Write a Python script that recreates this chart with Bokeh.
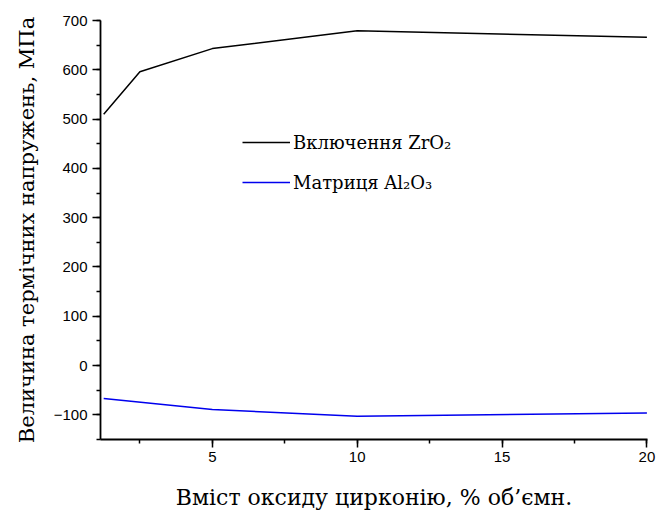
from bokeh.plotting import figure
from bokeh.models import Range1d, SingleIntervalTicker, Legend, LegendItem
from bokeh.embed import file_html
from bokeh.resources import INLINE

# Data
x_zro2 = [1.25, 2.5, 5, 10, 20]
y_zro2 = [510, 596, 643, 679, 666]
x_al2o3 = [1.25, 5, 10, 20]
y_al2o3 = [-67, -89, -103, -96]

label_zro2 = "Включення ZrO₂"
label_al2o3 = "Матриця Al₂O₃"
x_title = "Вміст оксиду цирконію, % об’ємн."
y_title = "Величина термічних напружень, МПа"

p = figure(width=657, height=514, output_backend="svg", toolbar_location=None,
           x_range=Range1d(1.14, 20.02), y_range=Range1d(-150, 700),
           min_border_left=100, min_border_top=20, min_border_right=10, min_border_bottom=75)
p.outline_line_color = None
p.grid.visible = False
p.background_fill_color = "white"
p.border_fill_color = "white"

r1 = p.line(x_zro2, y_zro2, line_color="black", line_width=1.5)
r2 = p.line(x_al2o3, y_al2o3, line_color="#0000ee", line_width=1.5)

p.xaxis.ticker = SingleIntervalTicker(interval=5, num_minor_ticks=2)
p.yaxis.ticker = SingleIntervalTicker(interval=100, num_minor_ticks=2)

for ax in (p.xaxis, p.yaxis):
    ax.axis_line_width = 1.8
    ax.major_tick_line_width = 1.5
    ax.minor_tick_line_width = 1.5
    ax.major_tick_in = 0
    ax.major_tick_out = 8
    ax.minor_tick_in = 0
    ax.minor_tick_out = 4
    ax.major_label_text_font = "Liberation Sans"
    ax.major_label_text_font_size = "15px"
    ax.major_label_text_color = "black"
    ax.axis_label_text_font = "DejaVu Serif"
    ax.axis_label_text_font_style = "normal"
    ax.axis_label_text_color = "black"

p.xaxis.axis_label_text_font_size = "22px"
p.yaxis.axis_label_text_font_size = "21px"
p.xaxis.axis_label = x_title
p.yaxis.axis_label = y_title
p.xaxis.major_label_standoff = 4
p.yaxis.major_label_standoff = 5
p.xaxis.axis_label_standoff = 20
p.yaxis.axis_label_standoff = 12

legend = Legend(items=[LegendItem(label=label_zro2, renderers=[r1]),
                       LegendItem(label=label_al2o3, renderers=[r2])],
                location=(142, 246), padding=0, margin=0, spacing=18,
                glyph_width=48, glyph_height=22, label_height=22,
                label_standoff=3, border_line_color=None,
                background_fill_alpha=0,
                label_text_font="DejaVu Serif", label_text_font_size="18px",
                label_text_color="black")
p.add_layout(legend, "center")

open("out.html", "w").write(file_html(p, INLINE))
